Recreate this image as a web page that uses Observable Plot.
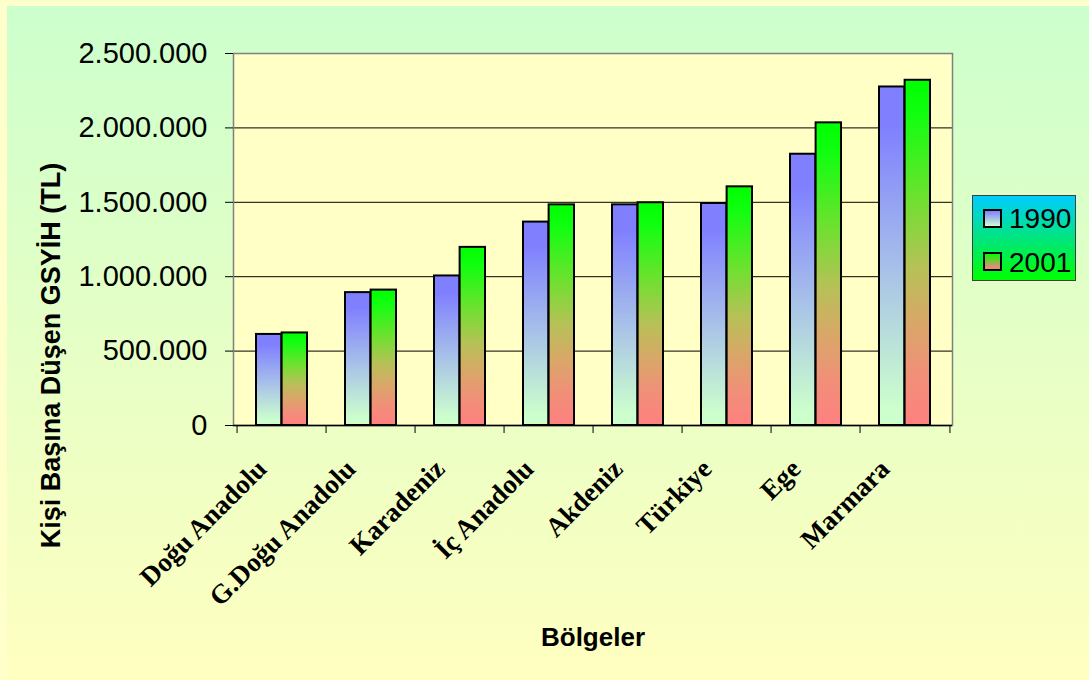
<!DOCTYPE html>
<html><head><meta charset="utf-8">
<script src="https://cdn.jsdelivr.net/npm/d3@7"></script>
<script src="https://cdn.jsdelivr.net/npm/@observablehq/plot@0.6"></script>
<style>
html,body{margin:0;padding:0;background:#FFFFCC;}
#wrap{position:relative;width:1089px;height:680px;overflow:hidden;background:#FFFFCC;}
#bg{position:absolute;left:7px;top:6px;right:0;bottom:0;background:linear-gradient(to bottom,#CCFFCC,#FFFFC0);}
#chart{position:absolute;left:0;top:0;}
#legend{position:absolute;left:972px;top:195px;width:102px;height:84px;border:1px solid #404040;background:linear-gradient(to bottom,#00CCFF,#00FF00);font-family:"Liberation Sans",Arial,sans-serif;font-size:28px;line-height:28px;color:#000;}
.sw{position:absolute;left:10px;width:15px;height:15px;border:2px solid #000;}
.lt{position:absolute;left:36px;}
</style>
</head><body>
<div id="wrap"><div id="bg"></div><div id="chart"></div>
<div id="legend">
  <div class="sw" style="top:13px;background:linear-gradient(to bottom,#8080FF,#CCFFCC)"></div><div class="lt" id="l0" style="top:9px"></div>
  <div class="sw" style="top:56px;background:linear-gradient(to bottom,#00FF00,#FF8080)"></div><div class="lt" id="l1" style="top:53px"></div>
</div>
</div>
<script>
const regions = ["Doğu Anadolu","G.Doğu Anadolu","Karadeniz","İç Anadolu","Akdeniz","Türkiye","Ege","Marmara"];
const v1990 = [612000, 893000, 1005000, 1367000, 1483000, 1492000, 1823000, 2275000];
const v2001 = [622000, 910000, 1197000, 1483000, 1497000, 1604000, 2034000, 2320000];
const years = ["1990","2001"];
const yTicks = [0, 500000, 1000000, 1500000, 2000000, 2500000];
const yLabel = "Kişi Başına Düşen GSYİH (TL)";
const xLabel = "Bölgeler";

const rows = regions.flatMap((r,i)=>[
  {region:r, year:years[0], value:v1990[i]},
  {region:r, year:years[1], value:v2001[i]}
]);

const W=1089,H=680,ML=233,MR=137,MT=53,MB=255;
const step=(W-ML-MR)/regions.length;
const pad=0.43;
const half=step*(1-pad)/2;
const fmt = d => d3.format(",")(d).replace(/,/g,".");
const sans = "'Liberation Sans', Arial, sans-serif";
const serif = "'Liberation Serif', 'Times New Roman', serif";

const svg = Plot.plot({
  width:W, height:H, marginLeft:ML, marginRight:MR, marginTop:MT, marginBottom:MB,
  style:{background:"transparent", color:"#000", overflow:"visible"},
  x:{domain:regions, type:"band", paddingInner:pad, paddingOuter:pad/2},
  y:{domain:[0,2500000]},
  marks:[
    Plot.frame({fill:"#FFFFC6", stroke:"none"}),
    Plot.ruleY(yTicks.slice(1,-1), {stroke:"#000", strokeWidth:1}),
    Plot.frame({stroke:"#808080", strokeWidth:1.5}),
    Plot.barY(rows.filter(d=>d.year===years[0]), {x:"region", y:"value", fill:"url(#g1990)", stroke:"#000", strokeWidth:2, insetRight:half}),
    Plot.barY(rows.filter(d=>d.year===years[1]), {x:"region", y:"value", fill:"url(#g2001)", stroke:"#000", strokeWidth:2, insetLeft:half}),
    Plot.ruleY([0], {stroke:"#000", strokeWidth:1.5}),
    Plot.axisY({ticks:yTicks, tickSize:8, tickPadding:18, tickFormat:fmt, fontSize:29, fontFamily:sans, label:null, stroke:"#000"}),
    Plot.axisX({ticks:regions, tickSize:8, dx:-step/2, tickFormat:()=>"", label:null, stroke:"#000"}),
    Plot.axisX({ticks:regions.slice(-1), tickSize:8, dx:step/2, tickFormat:()=>"", label:null, stroke:"#000"}),
    Plot.text(regions, {x:d=>d, text:d=>d, frameAnchor:"bottom", rotate:-45, textAnchor:"end", lineAnchor:"middle", dx:-20, dy:39, fontSize:27, fontWeight:"bold", fontFamily:serif, fill:"#000"}),
    Plot.text([yLabel], {text:d=>d, frameAnchor:"left", rotate:-90, textAnchor:"middle", lineAnchor:"middle", dx:51-ML, dy:355-(MT+(H-MT-MB)/2), fontSize:27, fontWeight:"bold", fontFamily:sans, fill:"#000"}),
    Plot.text([xLabel], {text:d=>d, frameAnchor:"bottom", textAnchor:"middle", lineAnchor:"middle", dy:212, fontSize:26, fontWeight:"bold", fontFamily:sans, fill:"#000"})
  ]
});

const defs = d3.select(svg).insert("defs", ":first-child");
const g1 = defs.append("linearGradient").attr("id","g1990").attr("x1",0).attr("y1",0).attr("x2",0).attr("y2",1);
[[0,"#8080FF"],[0.12,"#8080FF"],[0.55,"#A8C2E8"],[0.95,"#CCFFCC"],[1,"#CCFFCC"]].forEach(([o,c])=>g1.append("stop").attr("offset",o).attr("stop-color",c));
const g2 = defs.append("linearGradient").attr("id","g2001").attr("x1",0).attr("y1",0).attr("x2",0).attr("y2",1);
[[0,"#00FF00"],[0.1,"#10FF10"],[0.35,"#70E030"],[0.55,"#B8C058"],[0.7,"#D8A868"],[0.85,"#F09078"],[1,"#FF8080"]].forEach(([o,c])=>g2.append("stop").attr("offset",o).attr("stop-color",c));

document.getElementById("chart").appendChild(svg);
document.getElementById("l0").textContent = years[0];
document.getElementById("l1").textContent = years[1];
</script>
</body></html>
